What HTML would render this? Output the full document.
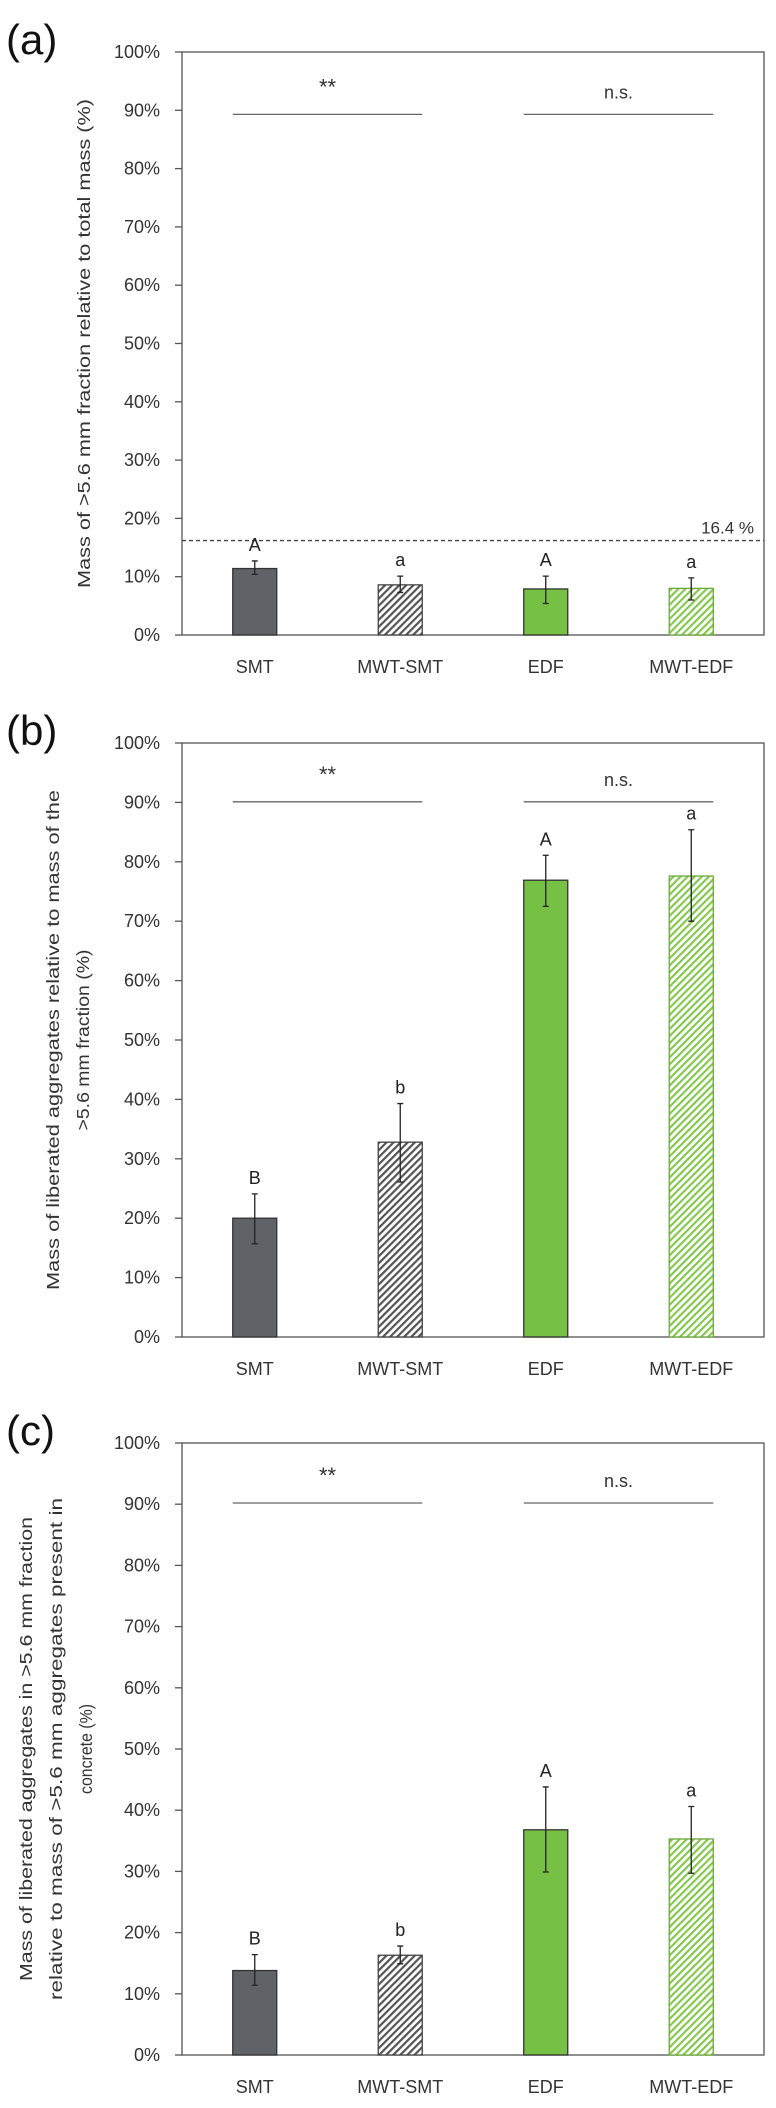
<!DOCTYPE html>
<html><head><meta charset="utf-8"><style>
html,body{margin:0;padding:0;background:#fff;}
svg{display:block;font-family:"Liberation Sans",sans-serif;}
</style></head><body>
<svg id="fig" width="776" height="2108" viewBox="0 0 776 2108" xmlns="http://www.w3.org/2000/svg">
<defs>
<pattern id="hatchGrey" patternUnits="userSpaceOnUse" width="5" height="5" patternTransform="rotate(45)">
<rect width="5" height="5" fill="#fff"/><rect width="2.2" height="5" fill="#555"/></pattern>
<pattern id="hatchGreen" patternUnits="userSpaceOnUse" width="5" height="5" patternTransform="rotate(45)">
<rect width="5" height="5" fill="#fff"/><rect width="2.2" height="5" fill="#86c84f"/></pattern>
</defs>
</svg>
<script>
const categories = ["SMT","MWT-SMT","EDF","MWT-EDF"];
const valuesA = [11.4, 8.6, 7.9, 8.0];
const errLowA = [10.4, 7.3, 5.4, 6.0];
const errHighA = [12.7, 10.1, 10.1, 9.8];
const lettersA = ["A","a","A","a"];
const valuesB = [20.0, 32.8, 76.9, 77.6];
const errLowB = [15.7, 26.1, 72.5, 70.0];
const errHighB = [24.1, 39.3, 81.1, 85.4];
const lettersB = ["B","b","A","a"];
const valuesC = [13.8, 16.3, 36.8, 35.3];
const errLowC = [11.4, 14.9, 29.9, 29.7];
const errHighC = [16.4, 17.8, 43.8, 40.6];
const lettersC = ["B","b","A","a"];
const yTicks = [0,10,20,30,40,50,60,70,80,90,100];
const sigLabels = ["**","n.s."];
const refLineA = 16.2;
const refLabelA = "16.4 %";

const NS = "http://www.w3.org/2000/svg";
const svg = document.getElementById('fig');
function mk(tag, attrs, parent){
  const e = document.createElementNS(NS, tag);
  for (const k in attrs) e.setAttribute(k, attrs[k]);
  (parent||svg).appendChild(e);
  return e;
}
const fills = ["#5f6266","url(#hatchGrey)","#76c043","url(#hatchGreen)"];
const strokes = ["#333","#444","#333","#6aa83a"];

function panel(cfg){
  const g = mk('g', {});
  
  
  const L = 182, R = 764, T = cfg.top, B = cfg.bottom;
  const y = v => B - (B - T) * v / 100;
  const band = (R - L) / categories.length;
  const x = i => L + band * (i + 0.5);
  const bw = 44;
  const pl = mk('text', {x: 6, y: T + 2, 'font-size': 42, fill: '#111'}, g);
  pl.textContent = '(' + cfg.id + ')';
  
  
  const fr = mk('rect', {x: L, y: T, width: R - L, height: B - T, fill: 'none', stroke: '#555', 'stroke-width': 1.3}, g);
  
  
  yTicks.forEach(t => {
    const tk = mk('line', {x1: L - 7, x2: L, y1: y(t), y2: y(t), stroke: '#555', 'stroke-width': 1.3}, g);
    
    
    const tl = mk('text', {x: 160, y: y(t) + 6, 'font-size': 18, 'text-anchor': 'end', fill: '#333'}, g);
    tl.textContent = t + '%';
    
    
  });
  const cy = (T + B) / 2;
  cfg.title.forEach((ln, k) => {
    const tx = cfg.titleX[k];
    const t = mk('text', {x: tx, y: cy, 'font-size': 17.5, 'text-anchor': 'middle', fill: '#333',
      transform: 'rotate(-90 ' + tx + ' ' + cy + ')', textLength: cfg.titleLen[k], lengthAdjust: 'spacingAndGlyphs'}, g);
    t.textContent = ln;
    
    
  });
  [[0,1],[2,3]].forEach((pr, k) => {
    const ln = mk('line', {x1: x(pr[0]) - bw/2, x2: x(pr[1]) + bw/2, y1: y(cfg.sigY), y2: y(cfg.sigY), stroke: '#666', 'stroke-width': 1.3}, g);
    
    
    const st = mk('text', {x: (x(pr[0]) + x(pr[1])) / 2, y: y(cfg.sigY) - (k === 0 ? 20 : 16), 'font-size': k === 0 ? 22 : 18, 'text-anchor': 'middle', fill: '#333'}, g);
    st.textContent = sigLabels[k];
    
    
  });
  if (cfg.ref !== undefined) {
    const rl = mk('line', {x1: L, x2: R, y1: y(cfg.ref), y2: y(cfg.ref), stroke: '#444', 'stroke-width': 1.3, 'stroke-dasharray': '4 3'}, g);
    
    
    const rt = mk('text', {x: 754, y: y(cfg.ref) - 7, 'font-size': 17, 'text-anchor': 'end', fill: '#333'}, g);
    rt.textContent = cfg.refLabel;
    
    
  }
  categories.forEach((c, i) => {
    const v = cfg.vals[i];
    const b = mk('rect', {x: x(i) - bw/2, y: y(v), width: bw, height: y(0) - y(v), fill: fills[i], stroke: strokes[i], 'stroke-width': 1.3}, g);
    
    
    const e = mk('path', {d: 'M' + (x(i)-3) + ' ' + y(cfg.hi[i]) + 'h6M' + x(i) + ' ' + y(cfg.hi[i]) + 'V' + y(cfg.lo[i]) + 'M' + (x(i)-3) + ' ' + y(cfg.lo[i]) + 'h6',
      stroke: '#222', 'stroke-width': 1.3, fill: 'none'}, g);
    
    
    const lt = mk('text', {x: x(i), y: y(cfg.hi[i]) - 10, 'font-size': 18, 'text-anchor': 'middle', fill: '#222'}, g);
    lt.textContent = cfg.letters[i];
    
    
    const cl = mk('text', {x: x(i), y: B + 38, 'font-size': 18, 'text-anchor': 'middle', fill: '#333'}, g);
    cl.textContent = c;
    
    
  });
}
panel({id:'a', top:52, bottom:635, vals:valuesA, lo:errLowA, hi:errHighA, letters:lettersA, sigY:89.3, ref:refLineA, refLabel:refLabelA,
  title:["Mass of >5.6 mm fraction relative to total mass (%)"], titleX:[90], titleLen:[489]});
panel({id:'b', top:743, bottom:1337, vals:valuesB, lo:errLowB, hi:errHighB, letters:lettersB, sigY:90.1,
  title:["Mass of liberated aggregates relative to mass of the",">5.6 mm fraction (%)"], titleX:[59,89], titleLen:[500,181]});
panel({id:'c', top:1443, bottom:2055, vals:valuesC, lo:errLowC, hi:errHighC, letters:lettersC, sigY:90.2,
  title:["Mass of liberated aggregates in >5.6 mm fraction","relative to mass of >5.6 mm aggregates present in","concrete (%)"], titleX:[32,62,92], titleLen:[464,502,90]});
</script>
</body></html>
